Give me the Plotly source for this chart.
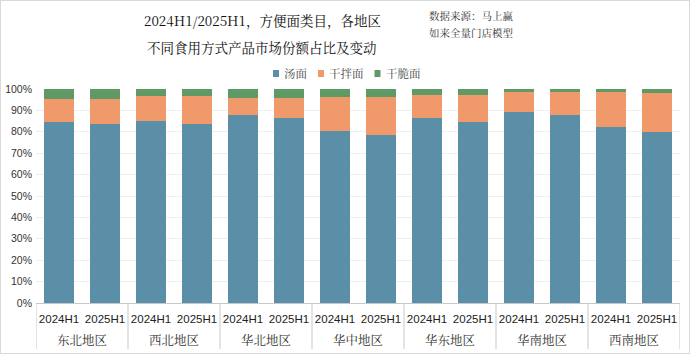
import plotly.graph_objects as go

regions = ["东北地区", "西北地区", "华北地区", "华中地区", "华东地区", "华南地区", "西南地区"]
periods = ["2024H1", "2025H1"]
soup = [84.6, 83.6, 85.0, 83.6, 87.7, 86.6, 80.5, 78.6, 86.4, 84.7, 89.4, 87.8, 82.1, 79.9]
dry = [10.9, 11.9, 11.9, 13.3, 8.2, 9.3, 15.6, 17.5, 10.6, 12.3, 9.2, 10.8, 16.6, 18.4]
crisp = [4.5, 4.5, 3.1, 3.1, 4.1, 4.1, 3.9, 3.9, 3.0, 3.0, 1.4, 1.4, 1.3, 1.7]
series_names = ["汤面", "干拌面", "干脆面"]
colors = ["#5B8FA8", "#F0996B", "#5F9966"]

W, H = 690, 354
L, R, T, B = 36, 10, 89, 51
PW, PH = W - L - R, H - T - B
SERIF = "Noto Serif CJK SC, Noto Sans CJK SC"

n_per = len(periods)
xs = list(range(len(regions) * n_per))
xlabels = [p for _ in regions for p in periods]

fig = go.Figure()
for name, vals, c in zip(series_names, [soup, dry, crisp], colors):
    fig.add_trace(go.Bar(x=xs, y=vals, name=name, marker_color=c,
                         marker_line_width=0, width=0.65, showlegend=False))

def xpaper(px):
    return (px - L) / PW

def ypaper(py):
    return 1 + (T - py) / PH

anns = []
for text, px, py, size, color in [
    ("2024H1/2025H1，方便面类目，各地区", 262, 20, 13.5, "#111111"),
    ("不同食用方式产品市场份额占比及变动", 262, 47, 13.5, "#111111"),
    ("数据来源：马上赢", 471, 15, 10.5, "#333333"),
    ("如来全量门店模型", 471, 32, 10.5, "#333333"),
]:
    anns.append(dict(text=text, x=xpaper(px), y=ypaper(py), xref="paper", yref="paper",
                     xanchor="center", yanchor="middle", showarrow=False,
                     font=dict(family=SERIF, size=size, color=color)))

# region group labels (outer category level)
for i, reg in enumerate(regions):
    anns.append(dict(text=reg, x=i * n_per + (n_per - 1) / 2, y=ypaper(340), xref="x", yref="paper",
                     xanchor="center", yanchor="middle", showarrow=False,
                     font=dict(family=SERIF, size=12.5, color="#333333")))

shapes = []
for i in range(len(regions) + 1):
    xv = i * n_per - 0.5
    shapes.append(dict(type="line", xref="x", yref="paper", x0=xv, x1=xv,
                       y0=0, y1=ypaper(349), line=dict(color="#C8C8C8", width=1)))

# compact legend (square marker + label)
leg_size = 11.5
cx = 273
for name, c in zip(series_names, colors):
    shapes.append(dict(type="rect", xref="paper", yref="paper",
                       x0=xpaper(cx), x1=xpaper(cx + 6), y0=ypaper(77), y1=ypaper(70),
                       fillcolor=c, line=dict(width=0)))
    anns.append(dict(text=name, x=xpaper(cx + 9), y=ypaper(73.5), xref="paper", yref="paper",
                     xanchor="left", yanchor="middle", showarrow=False,
                     font=dict(family=SERIF, size=leg_size, color="#444444")))
    cx += 9 + len(name) * leg_size + 13

shapes.append(dict(type="rect", xref="paper", yref="paper",
                   x0=-L/PW, x1=1+R/PW, y0=-B/PH, y1=1+T/PH,
                   line=dict(color="#D9D9D9", width=2), fillcolor="rgba(0,0,0,0)"))

fig.update_layout(
    barmode="stack",
    width=W, height=H,
    margin=dict(l=L, r=R, t=T, b=B, autoexpand=False),
    paper_bgcolor="white", plot_bgcolor="white",
    font=dict(family="Liberation Sans, Noto Sans CJK SC", size=12, color="#333333"),
    showlegend=False,
    annotations=anns,
    shapes=shapes,
)

fig.update_yaxes(range=[0, 100], dtick=10, ticksuffix="%", showgrid=True,
                 gridcolor="#EFEFEF", gridwidth=1, zeroline=False,
                 tickfont=dict(size=10.5, color="#333333"), showline=False,
                 ticklabelstandoff=3, automargin=False)
fig.update_xaxes(range=[-0.5, len(xs) - 0.5], tickmode="array", tickvals=xs, ticktext=xlabels,
                 showline=True, linecolor="#C8C8C8", showgrid=False, zeroline=False,
                 tickfont=dict(family="Liberation Sans", size=11.5, color="#222222"),
                 tickangle=0, ticks="", ticklabelstandoff=5, automargin=False)

fig.write_html("out.html")
